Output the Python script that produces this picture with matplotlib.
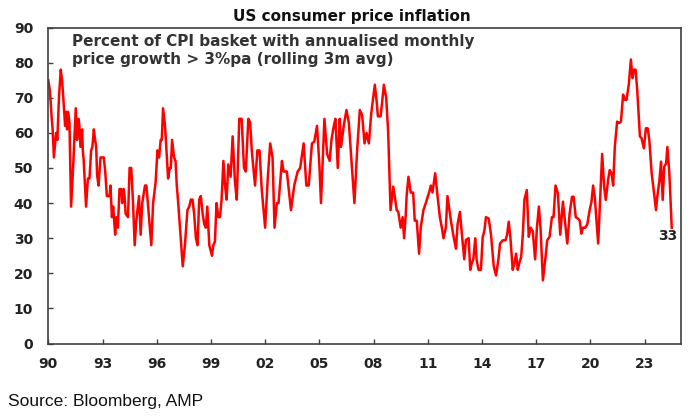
import matplotlib.pyplot as plt
import numpy as np

# percent of CPI basket with annualised monthly price growth > 3%pa (rolling 3m avg)
year = [
    1990.00, 1990.09, 1990.19, 1990.24, 1990.31, 1990.43, 1990.50, 1990.59, 1990.69, 1990.76,
    1990.83, 1990.93, 1990.98, 1991.04, 1991.09, 1991.17, 1991.26, 1991.39, 1991.52, 1991.59,
    1991.67, 1991.72, 1991.78, 1991.87, 1991.91, 1991.96, 1992.09, 1992.19, 1992.28, 1992.37,
    1992.44, 1992.52, 1992.59, 1992.65, 1992.70, 1992.78, 1992.89, 1993.07, 1993.15, 1993.24,
    1993.39, 1993.44, 1993.52, 1993.59, 1993.70, 1993.76, 1993.85, 1993.94, 1994.04, 1994.09,
    1994.17, 1994.22, 1994.28, 1994.41, 1994.50, 1994.59, 1994.69, 1994.78, 1994.87, 1995.02,
    1995.11, 1995.20, 1995.35, 1995.43, 1995.57, 1995.70, 1995.80, 1995.94, 1996.04, 1996.13,
    1996.22, 1996.28, 1996.35, 1996.46, 1996.54, 1996.63, 1996.72, 1996.78, 1996.85, 1996.96,
    1997.04, 1997.11, 1997.19, 1997.33, 1997.44, 1997.56, 1997.70, 1997.80, 1997.89, 1997.98,
    1998.07, 1998.17, 1998.26, 1998.35, 1998.44, 1998.54, 1998.63, 1998.72, 1998.80, 1998.91,
    1999.06, 1999.13, 1999.22, 1999.31, 1999.41, 1999.50, 1999.59,
    1999.69, 1999.78, 1999.87, 1999.96, 2000.09, 2000.20, 2000.33, 2000.43, 2000.57, 2000.70,
    2000.83, 2000.93, 2001.07, 2001.17, 2001.26, 2001.44, 2001.57, 2001.69, 2001.81, 2002.00,
    2002.15, 2002.28, 2002.41, 2002.52, 2002.65, 2002.74, 2002.93, 2003.02, 2003.20, 2003.43,
    2003.61, 2003.80, 2003.94, 2004.13, 2004.28, 2004.41, 2004.59, 2004.72, 2004.87, 2005.00,
    2005.09, 2005.28, 2005.43, 2005.57, 2005.67, 2005.80, 2005.89, 2006.02, 2006.13, 2006.20,
    2006.35, 2006.50, 2006.63, 2006.78, 2006.94, 2007.09, 2007.24, 2007.37, 2007.50, 2007.61,
    2007.74, 2007.87, 2007.98, 2008.07, 2008.17, 2008.24, 2008.39, 2008.48, 2008.57, 2008.70,
    2008.81, 2008.94, 2009.09, 2009.17, 2009.28, 2009.37, 2009.50, 2009.61, 2009.69, 2009.78,
    2009.83, 2009.93, 2010.06, 2010.19, 2010.28, 2010.39, 2010.52, 2010.61, 2010.76, 2010.89,
    2011.07, 2011.17, 2011.26, 2011.41, 2011.54, 2011.67, 2011.78, 2011.87, 2012.00, 2012.09,
    2012.28, 2012.41, 2012.56,
    2012.65, 2012.78, 2012.89, 2013.02, 2013.11, 2013.26, 2013.35, 2013.44, 2013.52, 2013.63,
    2013.70, 2013.81, 2013.94, 2014.04, 2014.13, 2014.22, 2014.37, 2014.50, 2014.65, 2014.78,
    2014.91, 2015.00, 2015.15, 2015.30, 2015.39, 2015.48, 2015.57, 2015.70, 2015.80, 2015.89,
    2015.98, 2016.07, 2016.17, 2016.26, 2016.35, 2016.48, 2016.59, 2016.69, 2016.81, 2016.94,
    2017.04, 2017.15, 2017.24, 2017.37, 2017.52, 2017.61, 2017.74, 2017.87, 2017.96, 2018.07,
    2018.20, 2018.33, 2018.48, 2018.57, 2018.72, 2018.85, 2018.98, 2019.07, 2019.19, 2019.31,
    2019.41, 2019.50, 2019.59, 2019.72, 2019.83, 2019.96, 2020.06, 2020.15, 2020.24, 2020.43,
    2020.52, 2020.65, 2020.76, 2020.85, 2020.98, 2021.07, 2021.17, 2021.26, 2021.35, 2021.48,
    2021.59, 2021.69, 2021.81, 2021.91, 2022.00, 2022.13, 2022.24, 2022.33, 2022.41, 2022.50,
    2022.59, 2022.74, 2022.83, 2022.96, 2023.07, 2023.17, 2023.26, 2023.39, 2023.48, 2023.63,
    2023.70, 2023.81, 2023.91, 2024.00, 2024.09, 2024.19, 2024.26, 2024.37, 2024.50,
]
pct = [
    75, 72, 64, 61, 53, 60, 58, 70, 78, 75,
    70, 62, 66, 61, 66, 63, 39, 52, 67, 58,
    64, 62, 56, 61, 55, 52, 39, 47, 47, 55,
    56, 61, 58, 56, 48, 45, 53, 53, 49, 42,
    42, 45, 36, 39, 31, 36, 33, 44, 44, 40,
    44, 42, 37, 36, 50, 50, 40, 28, 35, 42,
    31, 40, 45, 45, 36, 28, 40, 46, 55, 53,
    58, 58, 67, 62, 55, 47, 50, 50, 58, 53,
    52, 45, 40, 30, 22, 28, 38, 39, 41, 41,
    37, 30, 28, 41, 42, 37, 34, 33, 39, 28,
    25, 28, 29, 40, 36, 36, 41,
    52, 45, 41, 51, 47.5, 59, 46, 41, 64, 64,
    50, 49, 64, 63, 55, 45, 55, 55, 44, 33,
    47.5, 57, 53, 33, 40, 40, 52, 49, 49, 38,
    45, 49, 50, 57, 45, 45, 57, 57.5, 62, 51,
    40, 64, 54, 52, 58, 62, 64, 50, 64, 56,
    62, 66.5, 63, 52, 40, 55, 66.5, 65, 57, 60,
    57, 65.5, 70, 73.7, 69, 64.7, 64.7, 69, 73.7, 70,
    60, 38, 44.7, 42, 38, 37.5, 33, 36, 30, 36.6,
    42, 47.5, 43, 43, 35, 35, 25.6, 33, 38, 40,
    43, 45, 43, 48.5, 42, 36, 33, 30, 33, 42,
    35, 31, 27,
    34, 37.5, 31, 24, 29.5, 30, 21, 23, 24, 30,
    24, 21, 21, 30.4, 32, 36, 35.6, 31, 22, 19.4,
    24, 28.5, 29.4, 29.4, 31, 34.7, 30.4, 21, 23, 25.6,
    21, 23, 24.7, 31, 41, 43.7, 30.4, 33, 32, 24,
    33, 39, 33, 18, 24.7, 29.4, 30.4, 36, 36, 45,
    42.8, 31, 40.4, 36, 28.5, 37, 41.8, 41.8, 36, 35.6,
    35, 31.3, 33, 33, 34, 38, 40.4, 45, 41.8, 28.5,
    39, 54, 44.7, 40.9, 46.6, 49.4, 48.5, 45, 56, 63.2,
    62.8, 63.2, 70.9, 69.4, 69.4, 74, 80.9, 75.6, 78, 78,
    72.3, 59, 58.5, 55.6, 61.3, 61.3, 58, 48.5, 44.7, 38,
    41.8, 46, 51.8, 40.9, 50.4, 51.3, 56, 48.5, 33,
]

x_ticks = list(range(1990, 2024, 3))
x_labels = [f"{y % 100:02d}" for y in x_ticks]
y_ticks = list(range(0, 100, 10))

plt.rcParams['font.family'] = ['DejaVu Sans']

fig = plt.figure(figsize=(7, 4.2), dpi=100)
ax = fig.add_axes([0.069, 0.182, 0.9035, 0.7525])

ax.plot(year, pct, color='#ff0000', linewidth=1.8, solid_joinstyle='round')

ax.set_xlim(1990, 2025.0)
ax.set_ylim(0, 90)
ax.set_xticks(x_ticks)
ax.set_xticklabels(x_labels)
ax.set_yticks(y_ticks)

for side in ['left', 'bottom', 'top', 'right']:
    ax.spines[side].set_color('#404040')
    ax.spines[side].set_linewidth(1.2)

ax.tick_params(axis='both', direction='in', length=3.5, width=1, color='#404040',
               labelsize=10, labelcolor='#222222')
ax.tick_params(axis='x', pad=10)
ax.tick_params(axis='y', pad=11)
for lab in ax.get_xticklabels() + ax.get_yticklabels():
    lab.set_fontweight('bold')

ax.text(0.037, 0.978, 'Percent of CPI basket with annualised monthly\nprice growth > 3%pa (rolling 3m avg)',
        transform=ax.transAxes, ha='left', va='top', fontsize=11, fontweight='bold',
        color='#333333', linespacing=1.2)

ax.annotate(f"{pct[-1]:.0f}", xy=(year[-1], pct[-1]), xytext=(-3, -6),
            textcoords='offset points', ha='center', va='center',
            fontsize=10, fontweight='bold', color='#222222')

fig.text(0.503, 0.96, 'US consumer price inflation', ha='center', va='center',
         fontsize=11, fontweight='bold', color='#111111')
fig.text(0.012, 0.043, 'Source: Bloomberg, AMP', ha='left', va='center',
         fontsize=12.5, family='Liberation Sans', color='#111111')

fig.savefig('out.png', dpi=100)
